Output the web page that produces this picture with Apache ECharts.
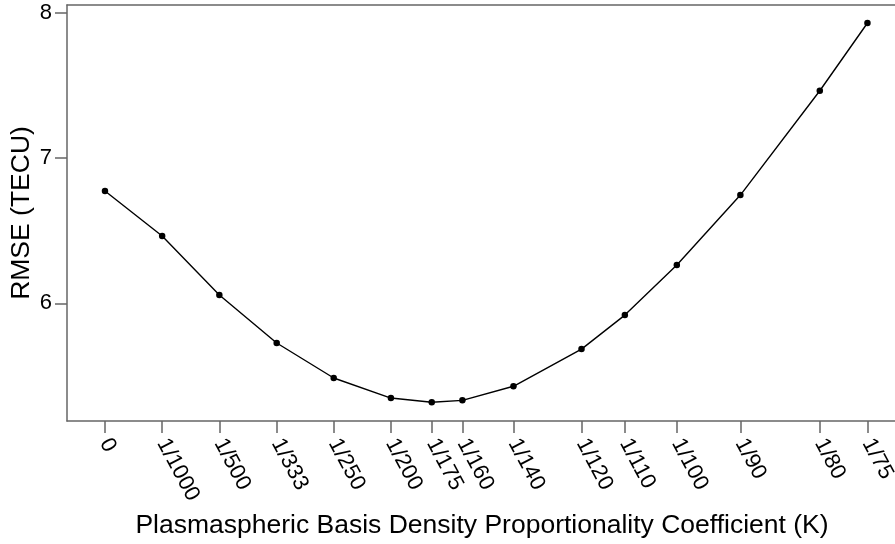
<!DOCTYPE html>
<html>
<head>
<meta charset="utf-8">
<script src="https://cdn.jsdelivr.net/npm/echarts@6/dist/echarts.min.js"></script>
<style>html,body{margin:0;padding:0;background:#fff}#c{width:895px;height:544px}</style>
</head>
<body>
<div id="c"></div>
<script>
const denominators = [0, 1000, 500, 333, 250, 200, 175, 160, 140, 120, 110, 100, 90, 80, 75];
const tickLabels = ['0','1/1000','1/500','1/333','1/250','1/200','1/175','1/160','1/140','1/120','1/110','1/100','1/90','1/80','1/75'];
const rmse = [6.773, 6.463, 6.057, 5.727, 5.486, 5.348, 5.319, 5.332, 5.429, 5.685, 5.919, 6.264, 6.745, 7.463, 7.929];
const yTicks = [6, 7, 8];

const kValues = denominators.map(d => d === 0 ? 0 : 1 / d);
const data = kValues.map((k, i) => [k, rmse[i]]);
const labelFor = v => {
  let best = 0, bd = Infinity;
  kValues.forEach((k, i) => { const d = Math.abs(k - v); if (d < bd) { bd = d; best = i; } });
  return tickLabels[best];
};
const font = '"Liberation Sans", Arial, Helvetica, sans-serif';
const axisGray = '#666666';

const chart = echarts.init(document.getElementById('c'), null, {renderer: 'canvas'});
chart.setOption({
  animation: false,
  backgroundColor: '#fff',
  grid: {left: 67, right: -2, top: 5, bottom: 123, containLabel: false, outerBoundsMode: 'none'},
  xAxis: [{
    type: 'value', position: 'bottom',
    min: -0.000664, max: 0.01385,
    axisLine: {show: true, onZero: false, lineStyle: {color: axisGray, width: 1.5}},
    axisTick: {show: true, inside: false, length: 12, customValues: kValues, lineStyle: {color: axisGray, width: 1.5}},
    axisLabel: {show: true, customValues: kValues, rotate: -62, margin: 19, color: '#000', fontSize: 22, fontFamily: font,
      formatter: v => labelFor(v)},
    splitLine: {show: false},
    name: 'Plasmaspheric Basis Density Proportionality Coefficient (K)',
    nameLocation: 'middle', nameGap: 91, nameMoveOverlap: false,
    nameTextStyle: {color: '#000', fontSize: 26.5, fontFamily: font}
  }, {
    type: 'value', position: 'top',
    min: -0.000664, max: 0.01385,
    axisLine: {show: true, onZero: false, lineStyle: {color: axisGray, width: 1.5}},
    axisTick: {show: false}, axisLabel: {show: false}, splitLine: {show: false}
  }],
  yAxis: {
    type: 'value', min: 5.19, max: 8.053,
    axisLine: {show: true, onZero: false, lineStyle: {color: axisGray, width: 1.5}},
    axisTick: {show: true, inside: false, length: 12, customValues: yTicks, lineStyle: {color: axisGray, width: 1.5}},
    axisLabel: {show: true, customValues: yTicks, margin: 15, color: '#000', fontSize: 22, fontFamily: font},
    splitLine: {show: false},
    name: 'RMSE (TECU)', nameLocation: 'middle', nameGap: 32, nameRotate: 90, nameMoveOverlap: false,
    nameTextStyle: {color: '#000', fontSize: 26.5, fontFamily: font}
  },
  series: [{
    type: 'line', xAxisIndex: 0, data: data,
    symbol: 'circle', symbolSize: 6.5,
    itemStyle: {color: '#000'},
    lineStyle: {color: '#000', width: 1.4}
  }]
});
</script>
</body>
</html>
